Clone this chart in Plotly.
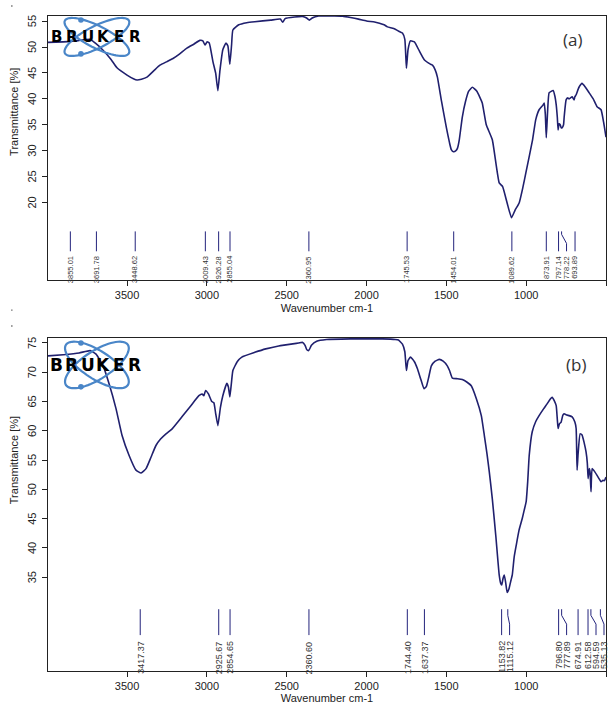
import numpy as np
import plotly.graph_objects as go

# ---------------- spectrum (a) ----------------
wn_a = [3995, 3900, 3850, 3800, 3731, 3700, 3650, 3600, 3563, 3500, 3460, 3437, 3410, 3375,
        3330, 3294, 3250, 3212, 3170, 3125, 3080, 3044, 3025, 3012, 2998, 2985, 2962, 2945,
        2931, 2918, 2900, 2880, 2868, 2856, 2845, 2837, 2800, 2750, 2700, 2600, 2540, 2525,
        2510, 2450, 2400, 2375, 2358, 2340, 2300, 2200, 2150, 2100, 2050, 2000, 1950, 1919,
        1890, 1869, 1830, 1800, 1775, 1760, 1750, 1740, 1725, 1700, 1670, 1637, 1600, 1587,
        1570, 1556, 1530, 1500, 1480, 1469, 1456, 1440, 1430, 1419, 1400, 1380, 1360, 1337,
        1310, 1290, 1275, 1250, 1212, 1169, 1148, 1120, 1092, 1070, 1044, 1020, 1002, 960,
        940, 919, 895, 887, 880, 874, 866, 856, 831, 820, 812, 805, 800, 794, 787, 780, 775,
        766, 762, 750, 740, 731, 712, 700, 695, 687, 670, 650, 630, 606, 580, 556, 531, 515,
        500]
t_a = [50.9, 51.0, 51.1, 51.3, 51.5, 50.8, 49.4, 47.6, 46.0, 44.6, 43.9, 43.65, 43.8, 44.2,
       45.5, 46.5, 47.2, 47.8, 48.7, 49.8, 50.6, 51.3, 51.2, 50.4, 51.0, 50.8, 47.2, 45.0,
       41.6, 45.5, 49.5, 50.8, 50.2, 46.7, 50.5, 53.3, 54.3, 54.7, 54.9, 55.2, 55.4, 54.8,
       55.5, 55.8, 55.9, 55.6, 55.2, 55.6, 56.0, 56.0, 55.95, 55.7, 55.4, 55.05, 54.85, 54.6,
       54.3, 53.9, 53.6, 53.1, 52.7, 51.5, 45.9, 49.5, 51.2, 51.0, 49.3, 47.5, 46.7, 46.5,
       45.6, 44.2, 39.5, 34.5, 31.5, 30.2, 29.8, 30.0, 30.5, 32.1, 36.5, 39.5, 41.5, 42.25,
       41.5, 40.3, 39.2, 35.0, 32.1, 23.8, 23.1, 20.0, 17.05, 18.5, 19.9, 23.0, 25.7, 32.1,
       36.0, 37.9, 38.8, 39.2, 37.0, 32.5, 37.5, 41.2, 41.6, 40.5, 38.9, 36.5, 34.0, 35.2,
       35.0, 34.4, 34.4, 35.0, 36.5, 39.8, 40.2, 40.0, 40.4, 39.8, 40.4, 40.8, 42.2, 43.0,
       42.3, 41.2, 40.0, 38.5, 37.9, 35.5, 32.6]
peaks_a = [3855.01, 3691.78, 3448.62, 3009.43, 2926.28, 2855.04, 2360.95, 1745.53, 1454.01,
           1089.62, 873.91, 797.14, 778.22, 693.89]

# ---------------- spectrum (b) ----------------
wn_b = [3995, 3900, 3800, 3731, 3694, 3650, 3612, 3569, 3531, 3487, 3444, 3412, 3381, 3350,
        3319, 3290, 3256, 3219, 3156, 3100, 3050, 3030, 3019, 3008, 2990, 2969, 2956, 2945,
        2931, 2915, 2900, 2875, 2865, 2856, 2845, 2837, 2810, 2781, 2700, 2631, 2550, 2425,
        2400, 2385, 2375, 2362, 2345, 2312, 2250, 2100, 1900, 1820, 1800, 1775, 1760, 1750,
        1740, 1725, 1700, 1681, 1660, 1640, 1625, 1610, 1594, 1570, 1544, 1520, 1494, 1480,
        1462, 1430, 1400, 1370, 1344, 1312, 1281, 1262, 1245, 1231, 1212, 1190, 1169, 1160,
        1153, 1145, 1137, 1128, 1119, 1108, 1095, 1087, 1075, 1062, 1045, 1025, 1012, 1000,
        990, 981, 962, 940, 919, 890, 869, 850, 837, 825, 812, 805, 800, 792, 781, 770, 762,
        745, 731, 712, 695, 687, 681, 675, 662, 650, 637, 625, 617, 612, 605, 600, 594, 587,
        570, 556, 545, 531, 519, 510, 500]
t_b = [72.8, 73.0, 73.3, 73.7, 73.1, 71.1, 68.0, 63.8, 59.2, 55.8, 53.3, 52.8, 53.55, 55.5,
       57.5, 58.6, 59.5, 60.3, 62.4, 64.3, 66.0, 66.3, 66.0, 66.9, 66.3, 65.0, 64.8, 63.0,
       60.9, 64.0, 66.0, 68.1, 67.5, 65.8, 68.5, 70.3, 71.8, 72.6, 73.4, 74.0, 74.5, 75.0,
       75.1, 74.6, 73.9, 73.7, 74.6, 75.3, 75.6, 75.7, 75.7, 75.6, 75.5, 74.8, 73.5, 70.3,
       72.0, 72.6, 71.8, 70.6, 68.8, 67.2, 67.6, 69.2, 71.1, 71.9, 72.2, 71.9, 71.1, 70.3,
       69.0, 68.9, 68.75, 68.3, 67.7, 65.5, 62.6, 59.2, 56.0, 53.0, 48.4, 42.0, 35.4, 34.0,
       33.7, 34.8, 35.4, 34.0, 32.4, 33.0, 34.5, 35.4, 38.5, 40.5, 43.0, 45.0, 46.5, 47.9,
       51.5, 55.8, 59.85, 61.6, 62.6, 63.8, 64.6, 65.4, 65.75, 65.2, 64.3, 62.0, 60.4, 61.2,
       61.5, 62.7, 62.9, 62.7, 62.6, 62.4, 61.5, 60.4, 53.3, 56.0, 59.5, 59.3, 58.0, 56.4,
       54.5, 51.85, 53.55, 53.0, 49.6, 53.55, 53.0, 52.4, 51.9, 51.3, 51.55, 51.5, 52.1]
peaks_b = [3417.37, 2925.67, 2854.65, 2360.60, 1744.40, 1637.37, 1153.82, 1115.12, 796.80,
           777.89, 674.91, 612.58, 594.59, 535.13]

x_ticks = [3500, 3000, 2500, 2000, 1500, 1000, 500]
y_ticks_a = [20, 25, 30, 35, 40, 45, 50, 55]
y_ticks_b = [35, 40, 45, 50, 55, 60, 65, 70, 75]
x_range = [3995, 500]
y_range_a = [5, 56]
y_range_b = [19, 75.85]
y_title = "Transmittance [%]"
x_title = "Wavenumber cm-1"

# ---------------- page geometry ----------------
W, H = 615, 711
ML, MR, MT, MB = 48, 8, 16, 38
PW, PH = W - ML - MR, H - MT - MB
dom_a = [(H - MB - 281) / PH, 1.0]
dom_b = [0.0, (H - MB - 339) / PH]


def paper(px, py):
    return (px - ML) / PW, (H - MB - py) / PH


LINE = "#20206e"
AXC = "#222222"
SANS = "Liberation Sans, Arial, sans-serif"
TICKFONT = dict(family=SANS, size=11, color=AXC)
LABELFONT = "Liberation Sans Narrow, Arial Narrow, Liberation Sans, sans-serif"

fig = go.Figure()


def leader_positions(peaks, gap=50.0):
    out, prev = [], None
    for p in sorted(peaks, reverse=True):
        lab = p if prev is None else min(p, prev - gap)
        out.append((p, lab))
        prev = lab
    return out


def add_panel(wn, t, peaks, yticks, xa, ya, lvl):
    top, b1, b2, bot, lab_top, fsize = lvl
    fig.add_trace(go.Scatter(x=wn, y=t, mode="lines", xaxis=xa, yaxis=ya,
                             line=dict(color=LINE, width=1.6, shape="spline", smoothing=0.4),
                             hoverinfo="skip", showlegend=False))
    lx, ly = [], []
    for p, lab in leader_positions(peaks):
        if abs(p - lab) < 0.5:
            lx += [p, p, None]
            ly += [top, bot, None]
        else:
            lx += [p, p, lab, lab, None]
            ly += [top, b1, b2, bot, None]
        fig.add_annotation(x=lab, y=lab_top, xref=xa, yref=ya, text=f"{p:.2f}",
                           textangle=-90, showarrow=False, xanchor="center", yanchor="top",
                           font=dict(family=LABELFONT, size=fsize, color="#333333"))
    fig.add_trace(go.Scatter(x=lx, y=ly, mode="lines", xaxis=xa, yaxis=ya,
                             line=dict(color="#23237c", width=1), hoverinfo="skip",
                             showlegend=False))
    # vertical tick labels and axis title, set just left of the y axis
    lab_x, _ = paper(32, 0)
    for v in yticks:
        fig.add_annotation(x=lab_x, y=v, xref="paper", yref=ya, text=str(v),
                           textangle=-90, showarrow=False, xanchor="center",
                           yanchor="middle", font=TICKFONT)
    tit_x, _ = paper(14, 0)
    fig.add_annotation(x=tit_x, y=(yticks[0] + yticks[-1]) / 2, xref="paper", yref=ya,
                       text=y_title, textangle=-90, showarrow=False, xanchor="center",
                       yanchor="middle", font=dict(family=SANS, size=11, color=AXC))


add_panel(wn_a, t_a, peaks_a, y_ticks_a, "x", "y", (14.42, 13.85, 12.1, 10.58, 10.0, 7.5))
add_panel(wn_b, t_b, peaks_b, y_ticks_b, "x2", "y2", (29.55, 28.5, 27.0, 25.13, 24.45, 9))

xcommon = dict(range=x_range, tickvals=x_ticks, showline=True, linecolor=AXC, linewidth=1,
               mirror=True, ticks="outside", ticklen=5, tickcolor=AXC, showgrid=False,
               zeroline=False, tickfont=TICKFONT,
               title=dict(text=x_title, font=dict(family=SANS, size=11, color=AXC),
                          standoff=3))
ycommon = dict(showline=True, linecolor=AXC, linewidth=1, mirror=True, ticks="outside",
               ticklen=5, tickcolor=AXC, showgrid=False, zeroline=False,
               showticklabels=False)

fig.update_layout(
    width=W, height=H, margin=dict(l=ML, r=MR, t=MT, b=MB),
    paper_bgcolor="white", plot_bgcolor="white",
    xaxis=dict(xcommon, anchor="y", domain=[0, 1]),
    yaxis=dict(ycommon, anchor="x", domain=dom_a, range=y_range_a, tickvals=y_ticks_a),
    xaxis2=dict(xcommon, anchor="y2", domain=[0, 1]),
    yaxis2=dict(ycommon, anchor="x2", domain=dom_b, range=y_range_b, tickvals=y_ticks_b),
)

# ---------------- BRUKER logos ----------------
BLUE = "#4a86c8"


def ellipse_path(cx, cy, a, b, ang_deg):
    s = np.linspace(0, 2 * np.pi, 73)
    th = np.deg2rad(ang_deg)
    ex = a * np.cos(s)
    ey = b * np.sin(s)
    px = cx + ex * np.cos(th) - ey * np.sin(th)
    py = cy + ex * np.sin(th) + ey * np.cos(th)
    pts = [paper(x, y) for x, y in zip(px, py)]
    return "M " + " L ".join(f"{u:.5f},{v:.5f}" for u, v in pts) + " Z"


def add_logo(cx, cy, a, b, ang, dot_dy, fsize):
    for sgn in (1, -1):
        fig.add_shape(type="path", path=ellipse_path(cx, cy, a, b, sgn * ang),
                      xref="paper", yref="paper", line=dict(color=BLUE, width=2.2),
                      layer="above")
    for dy in (-dot_dy, dot_dy):
        x0, y0 = paper(cx - 16 - 2.8, cy + dy - 2.8)
        x1, y1 = paper(cx - 16 + 2.8, cy + dy + 2.8)
        fig.add_shape(type="circle", x0=x0, x1=x1, y0=y0, y1=y1, xref="paper",
                      yref="paper", fillcolor=BLUE, line=dict(width=0), layer="above")
    for ch, lx in zip("BRUKER", [56.7, 71.7, 88.3, 103.3, 119.2, 135.0]):
        ux, uy = paper(lx, cy + 0.5)
        fig.add_annotation(x=ux, y=uy, xref="paper", yref="paper", text=f"<b>{ch}</b>",
                           showarrow=False, xanchor="center", yanchor="middle",
                           font=dict(family="DejaVu Sans, sans-serif", size=fsize,
                                     color="black"))


add_logo(97, 37, 36, 11, 27, 17, 15)
add_logo(97, 366, 37, 14, 33, 22, 17)

# panel tags
for tag, (px, py) in (("(a)", (573, 40)), ("(b)", (577, 366))):
    ux, uy = paper(px, py)
    fig.add_annotation(x=ux, y=uy, xref="paper", yref="paper", text=tag, showarrow=False,
                       xanchor="center", yanchor="middle",
                       font=dict(family="Open Sans, Noto Sans, sans-serif", size=17,
                                 color="#333333"))

# small margin marks
for py in (6, 311, 327):
    x0, y0 = paper(11, py - 0.7)
    x1, y1 = paper(12.5, py + 0.7)
    fig.add_shape(type="rect", x0=x0, x1=x1, y0=y0, y1=y1, xref="paper", yref="paper",
                  fillcolor="#777777", line=dict(width=0))

fig.write_html("out.html")
